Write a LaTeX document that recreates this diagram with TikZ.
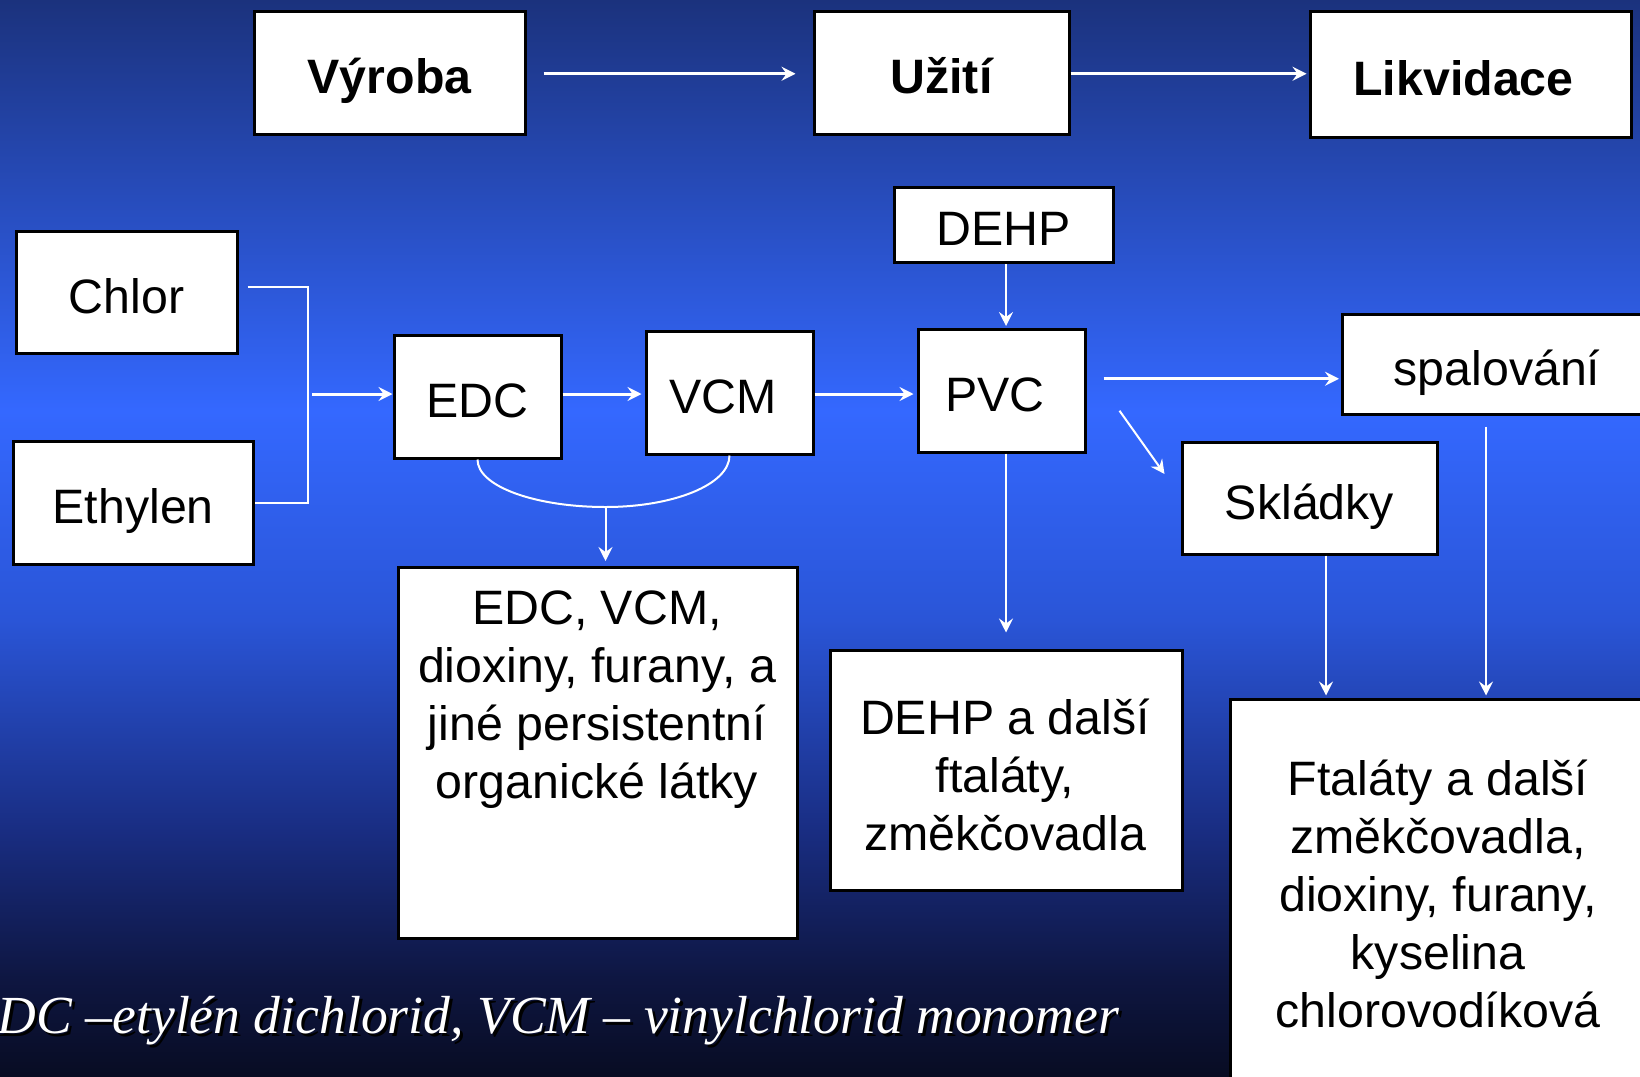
\documentclass[tikz,border=0pt]{standalone}
\usepackage{fontspec}
\setmainfont{Liberation Sans}
\newfontfamily\timesfont{Liberation Serif}
\usetikzlibrary{arrows.meta,calc}
\definecolor{bgA}{RGB}{27,50,125}
\definecolor{bgB}{RGB}{52,104,255}
\definecolor{bgC}{RGB}{42,85,215}
\definecolor{bgD}{RGB}{25,45,130}
\definecolor{bgE}{RGB}{14,22,65}
\definecolor{bgF}{RGB}{8,12,35}
\pgfdeclareverticalshading{bgshade}{100bp}{color(0bp)=(bgF); color(25bp)=(bgF); color(29.5bp)=(bgE); color(36.4bp)=(bgD); color(46.2bp)=(bgC); color(55.9bp)=(bgB); color(75bp)=(bgA); color(100bp)=(bgA)}
\begin{document}
\begin{tikzpicture}[x=1pt,y=-1pt,
  box/.style={draw=black, line width=3pt, fill=white, inner sep=0pt,
    font=\fontsize{48.3}{58}\selectfont, text height=42pt, text depth=0pt},
  boldbox/.style={box, font=\fontsize{48.3}{58}\selectfont\bfseries},
  plainbox/.style={draw=black, line width=3pt, fill=white, inner sep=0pt},
  multitext/.style={inner sep=0pt, align=center, font=\fontsize{48.3}{58}\selectfont},
  arr/.style={draw=white, line width=3pt, -{Stealth[length=14pt,width=14pt,inset=5pt]}},
  arrthin/.style={draw=white, line width=2pt, -{Stealth[length=14pt,width=14pt,inset=5pt]}},
  thinw/.style={draw=white, line width=2pt},
  capfont/.style={inner sep=0pt, anchor=base east, font=\timesfont\itshape\fontsize{53.6}{60}\selectfont}
]
\useasboundingbox (0,0) rectangle (1640,1076);
\clip (0,0) rectangle (1640,1076);
\shade[shading=bgshade] (0,0) rectangle (1640,1076);

% top row
\node[boldbox, minimum width=271pt, minimum height=122.5pt] (vyroba) at (389.5,72.75) {Výroba};
\node[boldbox, minimum width=255pt, minimum height=122.5pt] (uziti) at (941.5,72.75) {Užití};
\node[boldbox, minimum width=321pt, minimum height=125.5pt] (likv) at (1470.5,74.25) {Likvidace\rule{14pt}{0pt}};

% process row
\node[box, minimum width=219pt, minimum height=75.5pt] (dehp) at (1003.5,224.75) {DEHP};
\node[box, minimum width=221pt, minimum height=122.5pt] (chlor) at (126.5,292.25) {Chlor};
\node[box, minimum width=239.5pt, minimum height=123pt] (ethylen) at (133.3,502.5) {Ethylen};
\node[box, minimum width=167pt, minimum height=123pt] (edc) at (477.5,396.5) {EDC};
\node[box, minimum width=167pt, minimum height=122.5pt] (vcm) at (729.5,392.75) {VCM\rule{13pt}{0pt}};
\node[box, minimum width=167pt, minimum height=122.5pt] (pvc) at (1001.5,390.75) {PVC\rule{13pt}{0pt}};
\node[box, minimum width=255pt, minimum height=112pt] (skl) at (1309.5,498) {Skládky};
\node[box, minimum width=310pt, minimum height=100pt] (spal) at (1497,364) {spalování};

% output boxes
\node[plainbox, minimum width=398.5pt, minimum height=371pt] (edclist) at (597.75,752.5) {};
\node[multitext, anchor=north] (edclisttext) at (597,591) {EDC, VCM,\\dioxiny, furany, a\\jiné persistentní\\organické látky};
\node[plainbox, minimum width=352pt, minimum height=239.5pt] (dalsi) at (1006,770.25) {};
\node[multitext, anchor=north] (dalsitext) at (1005,699) {DEHP a další\\ftaláty,\\změkčovadla};
\node[plainbox, minimum width=414pt, minimum height=390pt] (ftal) at (1437,894) {};
\node[multitext, anchor=north] (ftaltext) at (1438,760) {Ftaláty a další\\změkčovadla,\\dioxiny, furany,\\kyselina\\chlorovodíková};

% connectors
\coordinate (rowy) at (0,394);
\coordinate (brk) at (307.5,394);
\coordinate (cb) at (605.5,507);
\coordinate (ps) at ([xshift=17pt,yshift=12pt]pvc.east);

\draw[arr, shorten <=17pt, shorten >=17pt] ([yshift=-1pt]vyroba.east) -- ([yshift=-1pt]uziti.west);
\draw[arr, shorten >=2pt] ([yshift=-1pt]uziti.east) -- ([yshift=-1pt]uziti.east -| likv.west);

\draw[thinw] ([xshift=9pt,yshift=5.75pt]chlor.east) -| (brk) |- (ethylen.east);
\draw[arr] ([xshift=4.5pt]brk) -- (brk -| edc.west);
\draw[arr, shorten >=3pt] (edc.east |- rowy) -- (vcm.west |- rowy);
\draw[arr, shorten >=3pt] (vcm.east |- rowy) -- (pvc.west |- rowy);
\draw[arrthin, shorten >=2pt] ([xshift=2.5pt]dehp.south) -- ([xshift=2.5pt]dehp.south |- pvc.north);

\draw[thinw] (edc.south) .. controls +(0,27) and +(-70,0) .. (cb) .. controls +(68,0) and +(0,29) .. (vcm.south);
\draw[arrthin, shorten >=4.5pt] (cb) -- (cb |- edclist.north);

\draw[arrthin, shorten >=16.5pt] (dalsi.north |- pvc.south) -- (dalsi.north);
\draw[arr, shorten >=1.5pt] (ps) -- (ps -| spal.west);
\draw[arrthin] ([xshift=33pt,yshift=-20pt]pvc.east) -- ([xshift=-16pt,yshift=24pt]skl.west);
\draw[arrthin, shorten >=2pt] ([xshift=16.5pt]skl.south) -- ([xshift=16.5pt]skl.south |- ftal.north);
\draw[arrthin, shorten <=11pt, shorten >=2pt] ([xshift=-11pt]spal.south) -- ([xshift=-11pt]spal.south |- ftal.north);

% caption
\node[capfont, text=black] (capshadow) at (1122,1036) {EDC –etylén dichlorid, VCM – vinylchlorid monomer};
\node[capfont, text=white] (caption) at (1119,1033) {EDC –etylén dichlorid, VCM – vinylchlorid monomer};
\end{tikzpicture}
\end{document}
